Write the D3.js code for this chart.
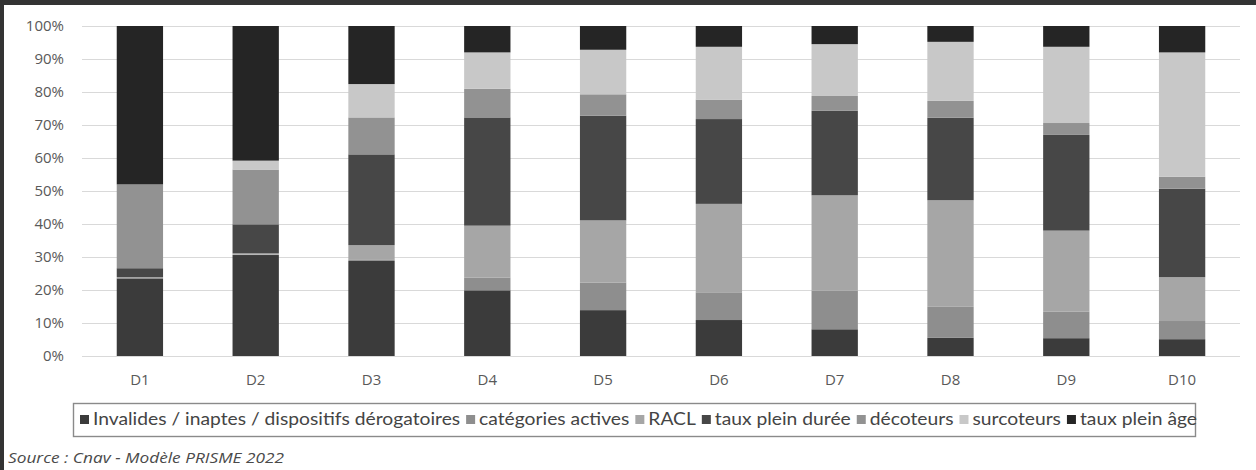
<!DOCTYPE html>
<html>
<head>
<meta charset="utf-8">
<script src="https://cdn.jsdelivr.net/npm/d3@7"></script>
<style>
  html, body { margin: 0; padding: 0; background: #fff; }
  svg { display: block; }
</style>
</head>
<body>
<svg id="chart" width="1256" height="470"></svg>
<script>
// Deciles of pensioners
const categories = ["D1", "D2", "D3", "D4", "D5", "D6", "D7", "D8", "D9", "D10"];

// Series, stacked bottom to top (shares in %)
const seriesNames = [
  "Invalides / inaptes / dispositifs dérogatoires",
  "catégories actives",
  "RACL",
  "taux plein durée",
  "décoteurs",
  "surcoteurs",
  "taux plein âge"
];
const invalides       = [23.5, 30.6, 28.8, 19.9, 13.9, 10.9,  8.1,  5.5,  5.4,  5.1];
const categoriesActives = [0.1,  0.1,  0.5,  3.9,  8.3,  8.4, 11.7,  9.4,  8.0,  5.5];
const racl            = [ 0.3,  0.4,  4.3, 15.7, 18.9, 26.8, 28.9, 32.3, 24.6, 13.3];
const tauxPleinDuree  = [ 2.7,  8.8, 27.5, 32.8, 31.7, 25.7, 25.6, 25.0, 29.0, 26.8];
const decoteurs       = [25.4, 16.6, 11.2,  8.7,  6.5,  5.9,  4.5,  5.1,  3.6,  3.6];
const surcoteurs      = [ 0.0,  2.7, 10.1, 11.0, 13.5, 16.0, 15.7, 17.9, 23.1, 37.7];
const tauxPleinAge    = [48.0, 40.8, 17.6,  8.0,  7.2,  6.3,  5.5,  4.8,  6.3,  8.0];

const yTicks = [0, 10, 20, 30, 40, 50, 60, 70, 80, 90, 100];
const sourceText = "Source : Cnav - Modèle PRISME 2022";

const seriesValues = [invalides, categoriesActives, racl, tauxPleinDuree, decoteurs, surcoteurs, tauxPleinAge];
const colors = ["#3b3b3b", "#8e8e8e", "#a6a6a6", "#474747", "#929292", "#c8c8c8", "#252525"];

const rows = categories.map((c, i) => {
  const r = { cat: c };
  seriesNames.forEach((s, k) => { r[s] = seriesValues[k][i]; });
  return r;
});

const svg = d3.select("#chart");

// Frame around the figure
svg.append("rect").attr("x", 0).attr("y", 0).attr("width", 1256).attr("height", 470).attr("fill", "#fff");
svg.append("rect").attr("x", 0).attr("y", 0).attr("width", 1256).attr("height", 5).attr("fill", "#333");
svg.append("rect").attr("x", 0).attr("y", 0).attr("width", 4).attr("height", 470).attr("fill", "#333");

const x = d3.scaleBand().domain(categories).range([82, 1240]).paddingInner(0.6).paddingOuter(0.3);
const y = d3.scaleLinear().domain([0, 100]).range([356, 26]);

// Gridlines
svg.append("g")
  .selectAll("line")
  .data(yTicks)
  .join("line")
  .attr("x1", 82).attr("x2", 1240)
  .attr("y1", d => Math.round(y(d)) + 0.5).attr("y2", d => Math.round(y(d)) + 0.5)
  .attr("stroke", "#d9d9d9").attr("stroke-width", 1);

// Y axis labels
const yAxis = svg.append("g")
  .attr("transform", "translate(72,0)")
  .call(d3.axisLeft(y).tickValues(yTicks).tickFormat(d => d + "%").tickSize(0).tickPadding(8));
yAxis.select(".domain").remove();
yAxis.selectAll("text")
  .attr("font-family", "'Open Sans', Lato, sans-serif")
  .attr("font-size", 15)
  .attr("fill", "#595959");

// Stacked bars
const stack = d3.stack().keys(seriesNames);
const layers = stack(rows);
svg.append("g")
  .selectAll("g")
  .data(layers)
  .join("g")
  .attr("fill", (d, i) => colors[i])
  .selectAll("rect")
  .data(d => d)
  .join("rect")
  .attr("x", d => x(d.data.cat))
  .attr("width", x.bandwidth())
  .attr("y", d => y(d[1]))
  .attr("height", d => Math.max(0, y(d[0]) - y(d[1])));

// X axis labels
const xAxis = svg.append("g")
  .attr("transform", "translate(0,356)")
  .call(d3.axisBottom(x).tickSize(0).tickPadding(18));
xAxis.select(".domain").remove();
xAxis.selectAll("text")
  .attr("font-family", "'Open Sans', Lato, sans-serif")
  .attr("font-size", 15)
  .attr("fill", "#595959");

// Legend
const legendLeft = 73, legendRight = 1195, legendTop = 403, legendBottom = 436;
svg.append("rect")
  .attr("x", legendLeft + 0.5).attr("y", legendTop + 0.5)
  .attr("width", legendRight - legendLeft).attr("height", legendBottom - legendTop)
  .attr("fill", "#fff").attr("stroke", "#8a8a8a").attr("stroke-width", 1.4);

const legend = svg.append("g");
const items = legend.selectAll("g").data(seriesNames).join("g");
const texts = items.append("text")
  .attr("font-family", "Lato, 'Open Sans', sans-serif")
  .attr("font-size", 17)
  .attr("fill", "#444")
  .attr("y", 425)
  .text(d => d);

const sq = 9, gapSq = 4, gapItem = 6;
const startX = 80, endX = 1197;
const natural = texts.nodes().map(n => n.getComputedTextLength());
const fixed = seriesNames.length * (sq + gapSq) + (seriesNames.length - 1) * gapItem;
const scale = (endX - startX - fixed) / d3.sum(natural);
let cx = startX;
items.each(function(d, i) {
  const g = d3.select(this);
  g.insert("rect", "text")
    .attr("x", cx).attr("y", 415).attr("width", sq).attr("height", sq)
    .attr("fill", colors[i]);
  const w = natural[i] * scale;
  g.select("text")
    .attr("x", cx + sq + gapSq)
    .attr("textLength", w)
    .attr("lengthAdjust", "spacingAndGlyphs");
  cx += sq + gapSq + w + gapItem;
});

// Source
const src = svg.append("text")
  .attr("x", 8).attr("y", 463)
  .attr("font-family", "'Open Sans', Lato, sans-serif")
  .attr("font-style", "italic")
  .attr("font-size", 15)
  .attr("fill", "#4a4a4a")
  .text(sourceText);
src.attr("textLength", 276).attr("lengthAdjust", "spacingAndGlyphs");
</script>
</body>
</html>
